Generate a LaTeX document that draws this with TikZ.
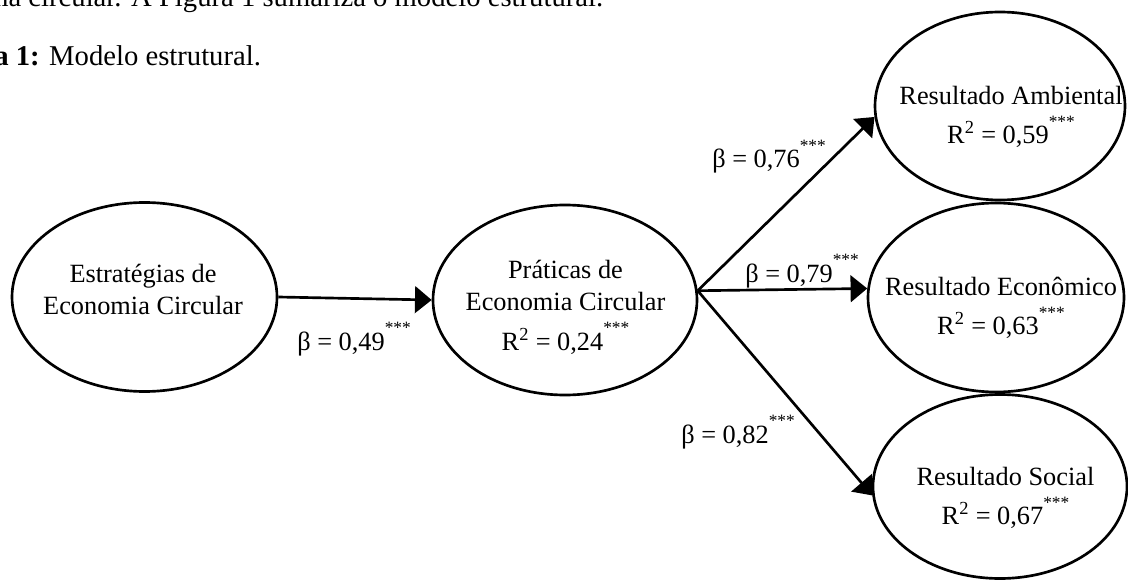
\documentclass[tikz,border=0pt]{standalone}
\usepackage{fontspec}
\setmainfont{Liberation Serif}
\usetikzlibrary{shapes.geometric,arrows.meta}

\newcommand{\sig}{\raisebox{0.62em}{\fontsize{13pt}{13pt}\selectfont ***}}

\begin{document}
\begin{tikzpicture}[x=0.75pt,y=0.75pt,yscale=-1,xscale=1,
	latent/.style 2 args={ellipse, draw, line width=2pt, inner sep=0pt,
		minimum width={#1*1.5pt}, minimum height={#2*1.5pt}},
	constr/.style={align=center, inner sep=0pt, font=\fontsize{19.75pt}{24pt}\selectfont},
	coef/.style={anchor=base west, inner sep=0pt, font=\fontsize{19.75pt}{24pt}\selectfont},
	intro/.style={anchor=base west, inner sep=0pt, font=\fontsize{21.5pt}{26pt}\selectfont},
	effect/.style={line width=2pt, -{Triangle[length=12.5pt,width=20pt]}}]
				\useasboundingbox (0,0) rectangle (1128,581);
				
				% Text above the figure
				\node[intro] (introline) at (-14,7) {ma circular. A Figura 1 sumariza o modelo estrutural.};
				\node[intro] (figcaption) at (-6,66) {\textbf{a 1:} Modelo estrutural.};
				
				% Latent variables
				\node[latent={132.5}{94.5}] (estr) at (144.5,297) {};
				\node[latent={132}{95}] (prat) at (565,300) {};
				\node[latent={125}{94}] (amb) at (1000,106) {};
				\node[latent={128}{94.5}] (econ) at (996,297.5) {};
				\node[latent={127}{92}] (soc) at (1000,486.5) {};
				
				% Construct names
				\node[constr] (estrtxt) at (143,289.5) {Estratégias de\\Economia Circular};
				\node[constr] (prattxt) at (565.5,307.5) {Práticas de\\Economia Circular\\[5.5pt]R\textsuperscript{2} = 0,24\sig};
				\node[constr] (ambtxt) at (1011,117) {Resultado Ambiental\\[5.5pt]R\textsuperscript{2} = 0,59\sig};
				\node[constr] (econtxt) at (1001,308) {Resultado Econômico\\[5.5pt]R\textsuperscript{2} = 0,63\sig};
				\node[constr] (soctxt) at (1005.5,498) {Resultado Social\\[5.5pt]R\textsuperscript{2} = 0,67\sig};
				
				% Paths
				\draw[effect] (estr.east) -- (prat.west);
				\draw[effect] (prat.4) -- (amb.185);
				\draw[effect] (prat.4) -- (econ.176);
				\draw[effect] (prat.4) -- (soc.184);
				
				% Path coefficients
				\node[coef] (b1) at (297,350) {β = 0,49\sig};
				\node[coef] (b2) at (712,168) {β = 0,76\sig};
				\node[coef] (b3) at (745,282) {β = 0,79\sig};
				\node[coef] (b4) at (681,443) {β = 0,82\sig};
				
\end{tikzpicture}
\end{document}
